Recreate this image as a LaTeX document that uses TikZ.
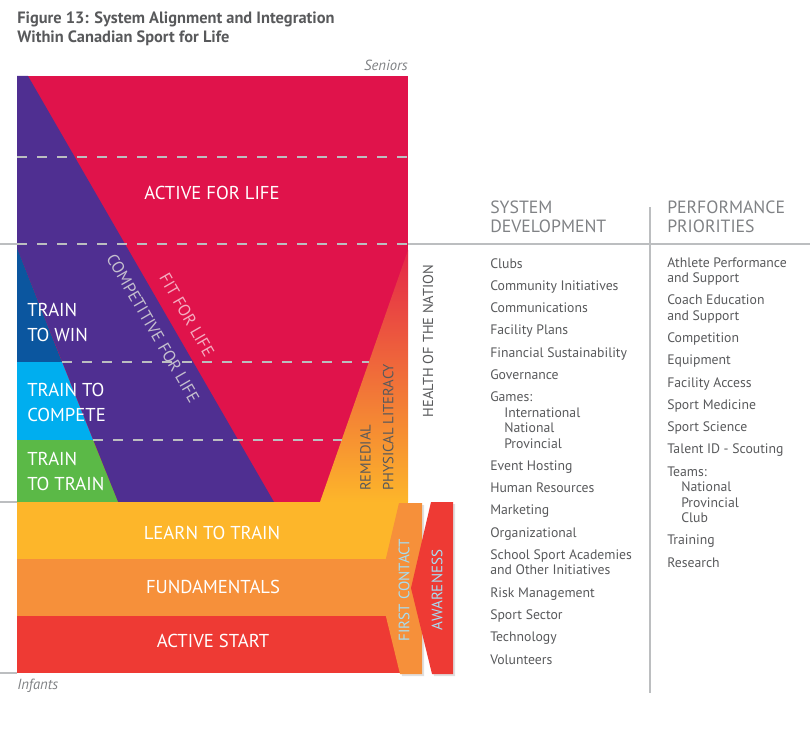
\documentclass[tikz,border=0pt]{standalone}
\usepackage{fontspec}
\setmainfont{PT Sans}
\usetikzlibrary{shadows}
\definecolor{aflred}{HTML}{E0134B}
\definecolor{cflpurple}{HTML}{4F2F91}
\definecolor{twblue}{HTML}{0B569F}
\definecolor{tcblue}{HTML}{00AEEF}
\definecolor{ttgreen}{HTML}{5BB947}
\definecolor{ltyellow}{HTML}{FDB62A}
\definecolor{fdorange}{HTML}{F6903A}
\definecolor{asred}{HTML}{EE3A34}
\definecolor{textgrey}{HTML}{58595B}
\definecolor{headgrey}{HTML}{808285}
\definecolor{rulegrey}{HTML}{BCBEC0}
\definecolor{ice}{HTML}{A6DDF2}
\tikzset{
  stage/.style={text=white, font=\fontsize{14}{18.75}\selectfont, inner sep=0pt, align=left},
  slant/.style={font=\fontsize{12.5}{14}\selectfont, inner sep=0pt, rotate=-60},
  upright/.style={text=textgrey, font=\fontsize{11}{17}\selectfont, inner sep=0pt, rotate=90, align=left},
  tag/.style={text=ice, font=\fontsize{11.3}{13}\selectfont, inner sep=0pt, rotate=90},
  guide/.style={draw=rulegrey, line width=0.8pt, dash pattern=on 7.5pt off 7.5pt},
  rule/.style={draw=rulegrey, line width=0.8pt},
  head/.style={text=headgrey, font=\fontsize{13.3}{14.25}\selectfont, inner sep=0pt, align=left, anchor=base west},
  items/.style={text=textgrey, font=\fontsize{10.3}{11.6}\selectfont, inner sep=0pt, align=left, anchor=base west},
  age/.style={text=headgrey, font=\fontsize{11}{12}\itshape, inner sep=0pt}
}
\newcommand{\ind}{\hspace*{10.5pt}}

\begin{document}
\begin{tikzpicture}[x=0.75pt,y=-0.75pt]
\useasboundingbox (0,0) rectangle (810,735);
\node[text=textgrey, font=\fontsize{12.3}{14.25}\bfseries, inner sep=0pt, align=left, anchor=base west] (title) at (17,43) {Figure 13: System Alignment and Integration\\Within Canadian Sport for Life};

% upper stages
\fill[aflred] (17,76) rectangle (408,502);
\fill[cflpurple] (17,76) -- (28,76) -- (274,502) -- (118,502) -- (17,248) -- cycle;
\fill[twblue] (17,248) -- (62,362) -- (17,362) -- cycle;
\fill[tcblue] (17,362) -- (62,362) -- (93,440) -- (17,440) -- cycle;
\fill[ttgreen] (17,440) -- (93,440) -- (118,502) -- (17,502) -- cycle;
\shade[top color=aflred!85!fdorange, middle color=fdorange, bottom color=ltyellow] (408,250) -- (408,502) -- (320,502) -- cycle;

% lower stages
\fill[ltyellow] (17,502) rectangle (408,559);
\fill[fdorange] (17,559) rectangle (408,616);
\fill[asred] (17,616) rectangle (408,673);

% dashed and solid rules
\draw[guide] (17,157) -- (408,157);
\draw[guide] (17,244) -- (408,244);
\draw[guide] (62,362) -- (369,362);
\draw[guide] (93,440) -- (342,440);
\draw[rule] (0,244) -- (17,244) (408,244) -- (810,244);
\draw[rule] (0,502) -- (17,502);
\draw[rule] (0,673) -- (17,673);
\draw[rule] (650,207) -- (650,693);

\node[age, anchor=base east] (seniors) at (408,70) {Seniors};
\node[age, anchor=base west] (infants) at (17,689) {Infants};

\node[stage] (afl) at (212,193) {ACTIVE FOR LIFE};
\node[stage, anchor=base west] (t2w) at (27,341) {TRAIN\\TO WIN};
\node[stage, anchor=base west] (t2c) at (27,421) {TRAIN TO\\COMPETE};
\node[stage, anchor=base west] (t2t) at (27,490) {TRAIN\\TO TRAIN};
\node[slant, text=black!15!white!85!cflpurple] (cfl) at (153,328) {COMPETITIVE FOR LIFE};
\node[slant, text=aflred!35!white] (ffl) at (187,315) {FIT FOR LIFE};
\node[upright, anchor=north west] (rpl) at (360,491) {REMEDIAL\\PHYSICAL LITERACY};
\node[upright, font=\fontsize{10.8}{14}\selectfont] (hotn) at (428,341) {HEALTH OF THE NATION};

\node[stage] (l2t) at (212,533) {LEARN TO TRAIN};
\node[stage] (fun) at (213,587) {FUNDAMENTALS};
\node[stage] (ast) at (213,641) {ACTIVE START};

% side arrows
\fill[fdorange, drop shadow={shadow xshift=1.5pt, shadow yshift=-1.5pt, opacity=.25}] (399,503) -- (422,503) -- (422,674) -- (400,674) -- (379,588) -- cycle;
\fill[asred, drop shadow={shadow xshift=1.5pt, shadow yshift=-1.5pt, opacity=.25}] (431,502) -- (453,502) -- (453,674) -- (432,674) -- (411,588) -- cycle;
\node[tag] (fc) at (404,590) {FIRST CONTACT};
\node[tag] (aw) at (437,590) {AWARENESS};

% columns
\node[head] (sd) at (490,232) {SYSTEM\\DEVELOPMENT};
\node[head] (pp) at (667,232) {PERFORMANCE\\PRIORITIES};
\node[items] (sdlist) at (490,664) {Clubs\\[5.1pt]
Community Initiatives\\[5.1pt]
Communications\\[5.1pt]
Facility Plans\\[5.1pt]
Financial Sustainability\\[5.1pt]
Governance\\[5.1pt]
Games:\\
\ind International\\
\ind National\\
\ind Provincial\\[5.1pt]
Event Hosting\\[5.1pt]
Human Resources\\[5.1pt]
Marketing\\[5.1pt]
Organizational\\[5.1pt]
School Sport Academies\\
and Other Initiatives\\[5.1pt]
Risk Management\\[5.1pt]
Sport Sector\\[5.1pt]
Technology\\[5.1pt]
Volunteers};
\node[items] (pplist) at (667,567) {Athlete Performance\\
and Support\\[5.1pt]
Coach Education\\
and Support\\[5.1pt]
Competition\\[5.1pt]
Equipment\\[5.1pt]
Facility Access\\[5.1pt]
Sport Medicine\\[5.1pt]
Sport Science\\[5.1pt]
Talent ID - Scouting\\[5.1pt]
Teams:\\
\ind National\\
\ind Provincial\\
\ind Club\\[5.1pt]
Training\\[5.1pt]
Research};
\end{tikzpicture}
\end{document}
